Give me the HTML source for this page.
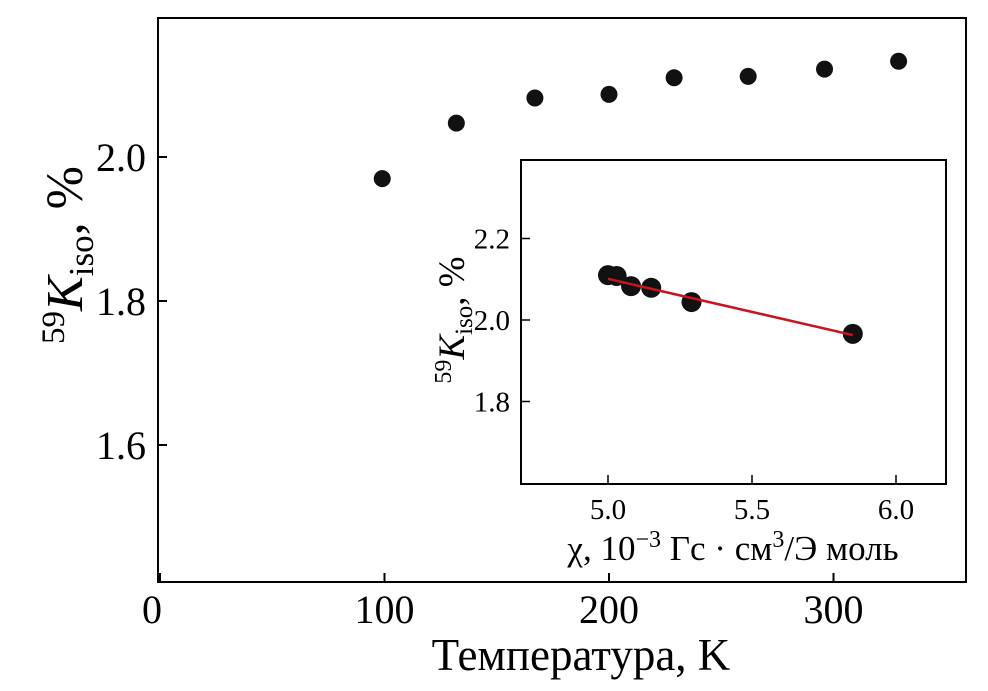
<!DOCTYPE html>
<html><head><meta charset="utf-8"><style>
html,body{margin:0;padding:0;background:#fff;}
svg{display:block;font-family:"Liberation Serif",serif;}
</style></head><body>
<svg id="c" width="988" height="691" viewBox="0 0 988 691"></svg>
<script>
const temps=[99,132,167,200,229,262,296,329];
const kMain=[1.970,2.047,2.082,2.087,2.110,2.112,2.122,2.133];
const xTicks=[0,100,200,300];
const yTicks=[1.6,1.8,2.0];
const chi=[5.00,5.03,5.08,5.15,5.29,5.85];
const kInset=[2.110,2.108,2.083,2.079,2.044,1.966];
const fitX=[5.0,5.85];
const fitY=[2.101,1.963];
const ixTicks=[5.0,5.5,6.0];
const iyTicks=[1.8,2.0,2.2];
const NS="http://www.w3.org/2000/svg";
const svg=document.getElementById('c');
function el(t,a,p){const e=document.createElementNS(NS,t);for(const k in a)e.setAttribute(k,a[k]);(p||svg).appendChild(e);return e;}
const X=v=>160+v*2.245, Y=v=>157-(v-2.0)*720;
let f=el('rect',{x:158,y:18,width:808,height:564,fill:'none',stroke:'#000','stroke-width':2});

xTicks.forEach(t=>{
 let l=el('line',{x1:X(t),x2:X(t),y1:582,y2:573,stroke:'#000','stroke-width':2});
 
 let tx=el('text',{x:X(t)-(t===0?8:0),y:623,'text-anchor':'middle','font-size':40});tx.textContent=t;
 
});
yTicks.forEach(t=>{
 let l=el('line',{x1:158,x2:167,y1:Y(t),y2:Y(t),stroke:'#000','stroke-width':2});
 
 let tx=el('text',{x:146,y:Y(t)+14,'text-anchor':'end','font-size':40});tx.textContent=t.toFixed(1);
 
});
let xt=el('text',{x:581,y:670,'text-anchor':'middle','font-size':45});xt.textContent='Температура, K';

let yt=el('text',{transform:'translate(82,255) rotate(-90)','text-anchor':'middle','font-size':52});
yt.innerHTML='<tspan font-size="33" dy="-18">59</tspan><tspan font-style="italic" dy="18">K</tspan><tspan font-size="35" dy="11">iso</tspan><tspan dy="-11">, %</tspan>';

temps.forEach((t,i)=>{
 let c=el('circle',{cx:X(t),cy:Y(kMain[i]),r:8.5,fill:'#111'});
 
});
const IX=v=>608+(v-5.0)*288, IY=v=>320-(v-2.0)*407.5;
let fi=el('rect',{x:521,y:160,width:425,height:324,fill:'#fff',stroke:'#000','stroke-width':2});

ixTicks.forEach(t=>{
 let l=el('line',{x1:IX(t),x2:IX(t),y1:484,y2:475,stroke:'#000','stroke-width':1.5});
 
 let tx=el('text',{x:IX(t),y:519,'text-anchor':'middle','font-size':29});tx.textContent=t.toFixed(1);
 
});
iyTicks.forEach(t=>{
 let l=el('line',{x1:521,x2:530,y1:IY(t),y2:IY(t),stroke:'#000','stroke-width':1.5});
 
 let tx=el('text',{x:510,y:IY(t)+10,'text-anchor':'end','font-size':29});tx.textContent=t.toFixed(1);
 
});
let ixt=el('text',{x:733,y:560,'text-anchor':'middle','font-size':35});
ixt.innerHTML='χ, 10<tspan font-size="24" dy="-13">−3</tspan><tspan dy="13"> Гс · см</tspan><tspan font-size="24" dy="-13">3</tspan><tspan dy="13">/Э моль</tspan>';

let iyt=el('text',{transform:'translate(464,320) rotate(-90)','text-anchor':'middle','font-size':37});
iyt.innerHTML='<tspan font-size="24" dy="-13">59</tspan><tspan font-style="italic" dy="13">K</tspan><tspan font-size="25" dy="8">iso</tspan><tspan dy="-8">, %</tspan>';

chi.forEach((c,i)=>{
 let p=el('circle',{cx:IX(c),cy:IY(kInset[i]),r:10,fill:'#111'});
 
});
let fl=el('line',{x1:IX(fitX[0]),y1:IY(fitY[0]),x2:IX(fitX[1]),y2:IY(fitY[1]),stroke:'#c8141e','stroke-width':2.5});

</script>
</body></html>
